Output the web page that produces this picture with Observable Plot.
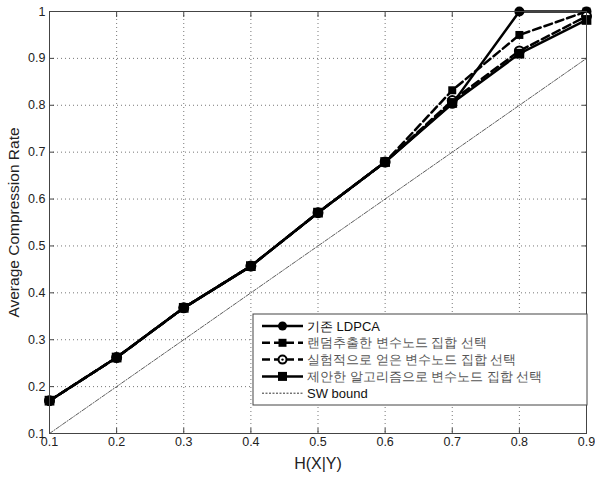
<!DOCTYPE html>
<html><head><meta charset="utf-8">
<script src="https://cdn.jsdelivr.net/npm/d3@7"></script>
<script src="https://cdn.jsdelivr.net/npm/@observablehq/plot@0.6"></script>
<style>body{margin:0;background:#fff}#c{position:relative;width:595px;height:478px}</style>
</head><body><div id="c"></div>
<script>
const hx = [0.1,0.2,0.3,0.4,0.5,0.6,0.7,0.8,0.9];
const ldpca    = [0.170,0.262,0.368,0.457,0.571,0.679,0.803,1.000,1.000];
const randomSel= [0.170,0.262,0.368,0.457,0.571,0.679,0.832,0.950,1.000];
const expSel   = [0.170,0.262,0.368,0.457,0.571,0.679,0.810,0.916,0.990];
const proposed = [0.170,0.262,0.368,0.457,0.571,0.679,0.805,0.910,0.982];
const swBound  = [0.1,0.2,0.3,0.4,0.5,0.6,0.7,0.8,0.9];
const seriesNames = ["기존 LDPCA","랜덤추출한 변수노드 집합 선택","실험적으로 얻은 변수노드 집합 선택","제안한 알고리즘으로 변수노드 집합 선택","SW bound"];
const xTicks = [0.1,0.2,0.3,0.4,0.5,0.6,0.7,0.8,0.9];
const yTicks = [0.1,0.2,0.3,0.4,0.5,0.6,0.7,0.8,0.9,1];

const mk = v => hx.map((x,i)=>({x, y:v[i]}));
const d1=mk(ldpca), d2=mk(randomSel), d3d=mk(expSel), d4=mk(proposed), dsw=mk(swBound);
const fmt = d => d===1 ? "1" : d.toFixed(1);
const font = "Liberation Sans, Arial, sans-serif";

const plot = Plot.plot({
  width:595, height:478,
  marginLeft:49, marginRight:9, marginTop:11, marginBottom:45,
  style:{fontFamily:font, fontSize:"12px", color:"#222", background:"#fff"},
  x:{domain:[0.1,0.9]},
  y:{domain:[0.1,1]},
  marks:[
    Plot.gridX(xTicks.slice(1,-1),{stroke:"#555", strokeOpacity:0.8, strokeDasharray:"1,3"}),
    Plot.gridY(yTicks.slice(1,-1),{stroke:"#555", strokeOpacity:0.8, strokeDasharray:"1,3"}),
    Plot.axisX(xTicks,{tickSize:-5, tickFormat:fmt, tickPadding:9, label:null, fontSize:12.5, stroke:"#444"}),
    Plot.axisX(xTicks,{anchor:"top", tickSize:-5, tickFormat:()=>"", label:null, stroke:"#444"}),
    Plot.axisY(yTicks,{tickSize:-5, tickFormat:fmt, tickPadding:9, label:null, fontSize:12.5, stroke:"#444"}),
    Plot.axisY(yTicks,{anchor:"right", tickSize:-5, tickFormat:()=>"", label:null, stroke:"#444"}),
    Plot.line(dsw,{x:"x",y:"y",stroke:"#333",strokeWidth:0.8,strokeDasharray:"4,1.5,1,1.5"}),
    Plot.line(d1,{x:"x",y:"y",stroke:"#000",strokeWidth:2.5}),
    Plot.dot(d1,{x:"x",y:"y",r:5,fill:"#000"}),
    Plot.line(d2,{x:"x",y:"y",stroke:"#000",strokeWidth:2.5,strokeDasharray:"8,4"}),
    Plot.dot(d2,{x:"x",y:"y",r:4.5,symbol:"square",fill:"#000"}),
    Plot.line(d3d,{x:"x",y:"y",stroke:"#000",strokeWidth:2.5,strokeDasharray:"8,4"}),
    Plot.dot(d3d,{x:"x",y:"y",r:4.5,fill:"#fff",stroke:"#000",strokeWidth:2}),
    Plot.dot(d3d,{x:"x",y:"y",r:1.3,fill:"#000"}),
    Plot.line(d4,{x:"x",y:"y",stroke:"#000",strokeWidth:2.5}),
    Plot.dot(d4,{x:"x",y:"y",r:5.5,symbol:"square",fill:"#000"}),
    Plot.frame({stroke:"#444"}),
    Plot.text(["H(X|Y)"],{frameAnchor:"bottom",dy:35,fontSize:16,fill:"#222"}),
    Plot.text(["Average Compression Rate"],{frameAnchor:"left",textAnchor:"middle",dx:-35,rotate:-90,fontSize:15.5,fill:"#222"})
  ]
});
document.getElementById("c").appendChild(plot);

// legend
const svg = d3.select(plot);
const lx=253, ly=314, lw=334, lh=91;
const g = svg.append("g").attr("font-family",font).attr("font-size",13).attr("text-anchor","start");
g.append("rect").attr("x",lx).attr("y",ly).attr("width",lw).attr("height",lh).attr("fill","#fff").attr("stroke","#444");
const styles=[
  {dash:null, w:2.5, m:"circle"},
  {dash:"8,4", w:2.5, m:"square"},
  {dash:"8,4", w:2.5, m:"odot"},
  {dash:null, w:2.5, m:"bigsquare"},
  {dash:"2,1.5", w:0.8, m:null}
];
seriesNames.forEach((n,i)=>{
  const y = ly+12+i*16.8, x0=lx+9, x1=lx+50, xm=(x0+x1)/2;
  const s=styles[i];
  g.append("line").attr("x1",x0).attr("x2",x1).attr("y1",y).attr("y2",y).attr("stroke","#000").attr("stroke-width",s.w).attr("stroke-dasharray",s.dash);
  if(s.m==="circle") g.append("circle").attr("cx",xm).attr("cy",y).attr("r",4.5).attr("fill","#000");
  if(s.m==="square") g.append("rect").attr("x",xm-4).attr("y",y-4).attr("width",8).attr("height",8).attr("fill","#000");
  if(s.m==="bigsquare") g.append("rect").attr("x",xm-4.5).attr("y",y-4.5).attr("width",9).attr("height",9).attr("fill","#000");
  if(s.m==="odot"){ g.append("circle").attr("cx",xm).attr("cy",y).attr("r",4).attr("fill","#fff").attr("stroke","#000").attr("stroke-width",2); g.append("circle").attr("cx",xm).attr("cy",y).attr("r",1.2).attr("fill","#000"); }
  g.append("text").attr("x",lx+54).attr("y",y).attr("dy","0.35em").attr("fill", i===0||i===4 ? "#111" : "#555").text(n);
});
</script></body></html>
